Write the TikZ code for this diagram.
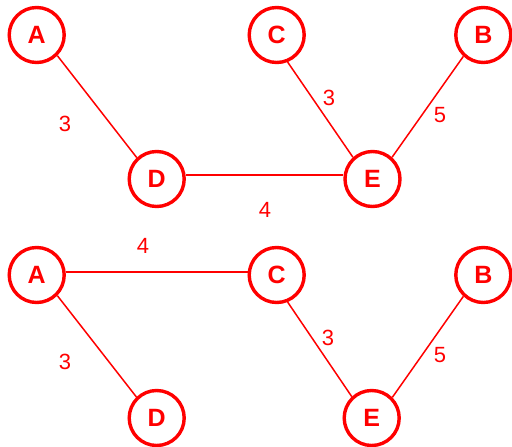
\documentclass[tikz,border=0pt]{standalone}
\usepackage{fontspec}
\setmainfont{Liberation Sans}
\definecolor{gred}{RGB}{255,0,0}
\begin{document}
\begin{tikzpicture}[x=1pt,y=-1pt,
  vert/.style={circle,draw=gred,line width=3.4pt,minimum size=55pt,inner sep=0pt,text=gred,font=\fontsize{25}{25}\selectfont\bfseries},
  edge/.style={draw=gred,line width=1.5pt},
  hedge/.style={edge,line width=2pt},
  wlab/.style={text=gred,font=\fontsize{22}{22}\selectfont}]
\useasboundingbox (0,0) rectangle (512,447);
% top graph
\node[vert] (A1) at (36.7,35) {A};
\node[vert] (C1) at (276.7,35) {C};
\node[vert] (B1) at (483.3,35) {B};
\node[vert] (D1) at (156.7,179) {D};
\node[vert] (E1) at (372.5,179) {E};
\draw[edge] (A1.-45) -- (D1.133);
\draw[hedge] ([yshift=4pt]D1.east) -- ([yshift=4pt]E1.west);
\draw[edge] (C1.-68) -- (E1.132);
\draw[edge] (B1.227) -- (E1.48);
\node[wlab] (w1) at (65,124) {3};
\node[wlab] (w2) at (329,98) {3};
\node[wlab] (w3) at (440,115) {5};
\node[wlab] (w4) at (265,210) {4};
% bottom graph
\node[vert] (A2) at (36.7,275) {A};
\node[vert] (C2) at (276.7,275) {C};
\node[vert] (B2) at (483.3,275) {B};
\node[vert] (D2) at (156.7,418) {D};
\node[vert] (E2) at (371.7,418) {E};
\draw[hedge] ([yshift=3.5pt]A2.east) -- ([yshift=3.5pt]C2.west);
\draw[edge] (A2.-45) -- (D2.134);
\draw[edge] (C2.-68) -- (E2.133);
\draw[edge] (B2.227) -- (E2.45);
\node[wlab] (w5) at (143,246) {4};
\node[wlab] (w6) at (65,362) {3};
\node[wlab] (w7) at (328,338) {3};
\node[wlab] (w8) at (440,355) {5};
\end{tikzpicture}
\end{document}
